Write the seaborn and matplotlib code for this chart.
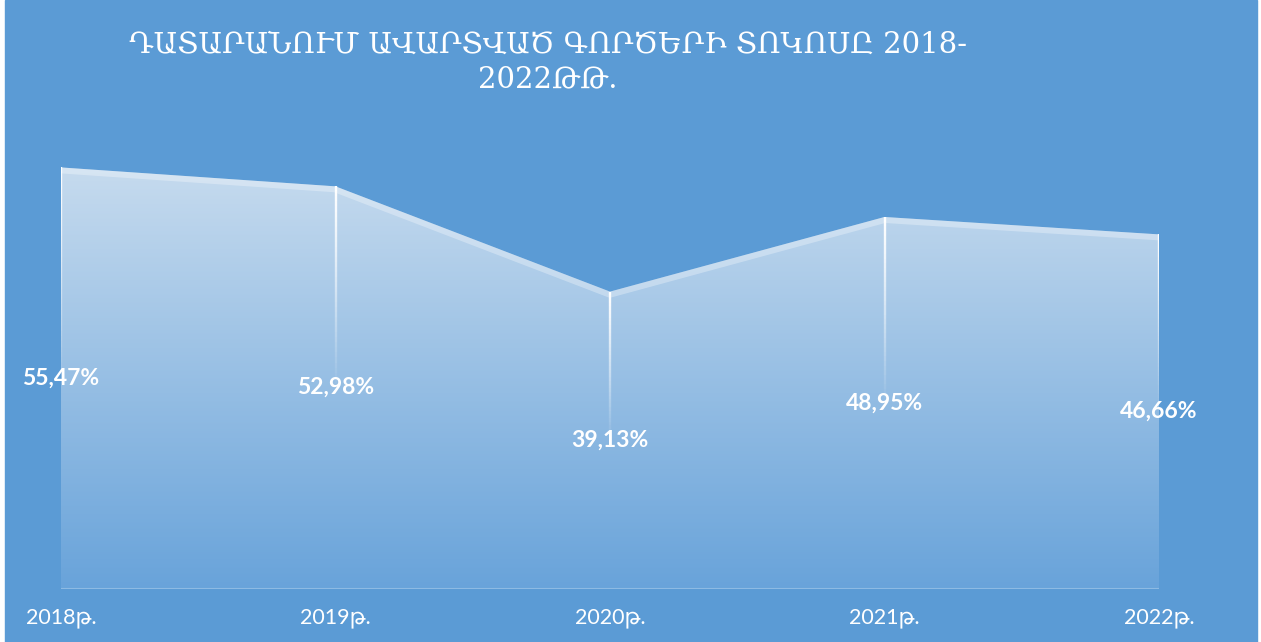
import numpy as np
import pandas as pd
import seaborn as sns
import matplotlib.pyplot as plt
from matplotlib.collections import LineCollection
from matplotlib.patches import Rectangle

years = ["2018թ.", "2019թ.", "2020թ.", "2021թ.", "2022թ."]
values = [55.47, 52.98, 39.13, 48.95, 46.66]
labels = ["55,47%", "52,98%", "39,13%", "48,95%", "46,66%"]
title = "ԴԱՏԱՐԱՆՈՒՄ ԱՎԱՐՏՎԱԾ ԳՈՐԾԵՐԻ ՏՈԿՈՍԸ 2018-\n2022ԹԹ."

df = pd.DataFrame({"pos": np.arange(len(years)), "year": years, "value": values})

bg = "#5B9BD5"
sns.set_theme(style="white")
plt.rcParams["font.family"] = ["Lato", "DejaVu Sans"]

fig = plt.figure(figsize=(12.61, 6.42), dpi=100, facecolor="white")
fig.add_artist(Rectangle((5 / 1261, 0), 1252 / 1261, 1, transform=fig.transFigure,
                         color=bg, zorder=-5))
ax = fig.add_axes([61 / 1261, 53 / 642, 1098 / 1261, 456 / 642])
ax.set_facecolor("none")
ax.set_xlim(0, 4)
ax.set_ylim(0, 60)

# area with vertical gradient, clipped to the filled shape
poly = ax.fill_between(df["pos"], df["value"], 0, color="none", lw=0)
clip = poly.get_paths()[0]
c_bot = np.array([0.41, 0.64, 0.855])
c_top = np.array([0.78, 0.86, 0.935])
t = np.linspace(0, 1, 256)[:, None]
grad = c_bot + (c_top - c_bot) * t
img = ax.imshow(grad[:, None, :], extent=[0, 4, 0, 56], origin="lower", aspect="auto", zorder=1)
img.set_clip_path(clip, transform=ax.transData)

# lighter band along top edge
sns.lineplot(data=df, x="pos", y="value", color="white", alpha=0.3, lw=8.6, ax=ax, zorder=2)
ax.lines[-1].set_clip_path(clip, transform=ax.transData)

# baseline
ax.plot([0, 4], [0, 0], color="white", alpha=0.25, lw=1.5, zorder=2)

# fading drop lines
segs, cols = [], []
n = 40
for x, v in zip(df["pos"], df["value"]):
    ys = np.linspace(v, v / 2, n + 1)
    for k in range(n):
        segs.append([(x, ys[k]), (x, ys[k + 1])])
        cols.append((1, 1, 1, 1 - k / n))
ax.add_collection(LineCollection(segs, colors=cols, lw=1.7, zorder=3))

for x, v, lab in zip(df["pos"], df["value"], labels):
    ax.text(x, v / 2, lab, ha="center", va="center", color="white",
            fontweight="bold", fontsize=16.5, zorder=4)

ax.set_xticks(df["pos"])
ax.set_xticklabels(years, color="white", fontsize=15.5)
ax.tick_params(axis="x", length=0, pad=14)
ax.set_yticks([])
ax.set_xlabel("")
ax.set_ylabel("")
for s in ax.spines.values():
    s.set_visible(False)

fig.text(548 / 1261, 1 - 62 / 642, title, ha="center", va="center", color="white",
         fontsize=21, family="DejaVu Serif", linespacing=1.3)

fig.savefig("out.png", dpi=100, facecolor=fig.get_facecolor())
